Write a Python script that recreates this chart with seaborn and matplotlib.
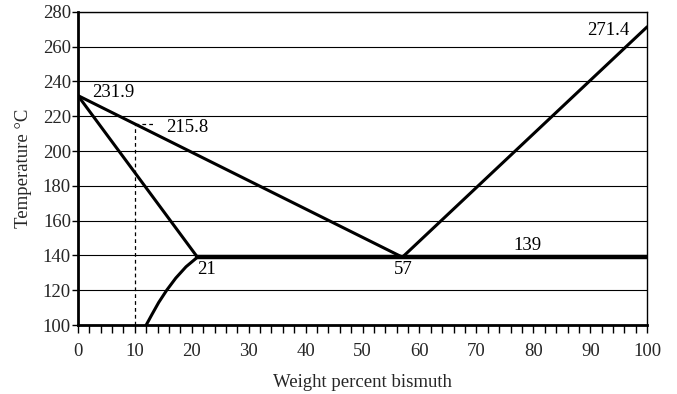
import matplotlib
matplotlib.use("Agg")
import matplotlib.pyplot as plt
import seaborn as sns
import pandas as pd
import numpy as np

# Phase boundaries (weight % Bi, temperature °C)
liquidus_left_x = [0, 57]
liquidus_left_y = [231.9, 139]
liquidus_right_x = [57, 100]
liquidus_right_y = [139, 271.4]
solidus_x = [0, 21]
solidus_y = [231.9, 139]
solvus_x = [12, 13.0, 14.2, 15.6, 17.2, 19.0, 21]
solvus_y = [100, 106, 113, 120, 127, 133.5, 139]
eutectic_x = [21, 100]
eutectic_y = [139, 139]
dash_v_x = [10, 10]
dash_v_y = [100, 215.8]
dash_h_x = [10, 13.5]
dash_h_y = [215.8, 215.8]

labels = ["231.9", "215.8", "21", "57", "139", "271.4"]
label_x = [2.5, 15.5, 20.9, 55.5, 76.5, 89.5]
label_y = [233.5, 213.5, 132, 132, 145.5, 269.5]

sns.set_theme(style="white")
plt.rcParams['font.family'] = ['Liberation Serif', 'DejaVu Serif']

fig, ax = plt.subplots(figsize=(6.77, 3.94), dpi=100)
fig.subplots_adjust(left=0.115, right=0.956, top=0.97, bottom=0.175)

def seg(x, y, name):
    return pd.DataFrame({"x": x, "y": y, "seg": name})

solid = pd.concat([
    seg(liquidus_left_x, liquidus_left_y, "ll"),
    seg(liquidus_right_x, liquidus_right_y, "lr"),
    seg(solidus_x, solidus_y, "s"),
    seg(solvus_x, solvus_y, "sv"),
])
for name, g in solid.groupby("seg"):
    sns.lineplot(data=g, x="x", y="y", ax=ax, color="black", lw=2.2,
                 sort=False, estimator=None, zorder=3)
sns.lineplot(x=eutectic_x, y=eutectic_y, ax=ax, color="black", lw=3.2,
             estimator=None, zorder=3)
sns.lineplot(x=dash_v_x, y=dash_v_y, ax=ax, color="black", lw=0.9,
             linestyle=(0, (3, 2.5)), estimator=None, zorder=2)
sns.lineplot(x=dash_h_x, y=dash_h_y, ax=ax, color="black", lw=0.9,
             linestyle=(0, (3, 2.5)), estimator=None, zorder=2)

for t, x, y in zip(labels, label_x, label_y):
    ax.text(x, y, t, fontsize=13.5, ha="left", va="center", color="black")

ax.set_xlim(0, 100)
ax.set_ylim(100, 280)
ax.set_xticks(np.arange(0, 101, 10))
ax.set_xticks(np.arange(0, 101, 2), minor=True)
ax.set_yticks(np.arange(100, 281, 20))
ax.yaxis.grid(True, color="black", lw=0.8)
ax.xaxis.grid(False)
ax.tick_params(axis="x", which="both", direction="out", length=6, width=1,
               bottom=True, labelsize=13.5, pad=7, color="black")
ax.tick_params(axis="y", which="major", direction="out", length=4, width=1,
               left=True, labelsize=13.5, pad=1, color="black")
for s in ["left", "bottom"]:
    ax.spines[s].set_linewidth(2)
    ax.spines[s].set_color("black")
for s in ["right", "top"]:
    ax.spines[s].set_linewidth(1)
    ax.spines[s].set_color("black")
ax.set_xlabel("Weight percent bismuth", fontsize=13.5, labelpad=10)
ax.set_ylabel("Temperature °C", fontsize=13.5, labelpad=8)

fig.savefig("out.png", dpi=100)
